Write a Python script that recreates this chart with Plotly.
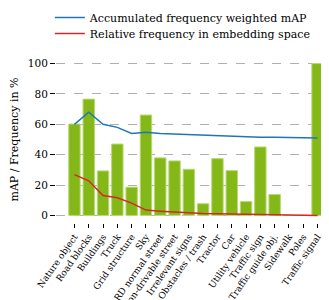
import plotly.graph_objects as go

categories = ["Nature object", "Road blocks", "Buildings", "Truck", "Grid structure", "Sky",
              "RD normal street", "Non-drivable street", "Irrelevant signs", "Obstacles / trash",
              "Tractor", "Car", "Utility vehicle", "Traffic sign", "Traffic guide obj.",
              "Sidewalk", "Poles", "Traffic signal"]
bar_map = [60.2, 76.6, 29.3, 47.0, 18.6, 66.1, 37.9, 35.9, 30.4, 7.7,
           37.4, 29.5, 9.2, 45.1, 13.8, 0.0, 0.0, 100.0]
acc_weighted_map = [60.0, 68.0, 60.0, 58.0, 54.0, 54.7, 54.0, 53.6, 53.2, 52.5,
                    52.3, 51.9, 51.6, 51.4, 51.4, 51.2, 51.2, 51.0]
rel_frequency = [26.9, 22.8, 13.1, 11.6, 8.1, 3.5, 2.8, 2.2, 1.8, 1.3,
                 1.1, 0.9, 0.7, 0.5, 0.3, 0.1, 0.05, 0.0]
y_ticks = [0, 20, 40, 60, 80, 100]

FONT = "DejaVu Serif, Liberation Serif, serif"
x = list(range(len(categories)))

fig = go.Figure()
fig.add_trace(go.Bar(x=x, y=bar_map, width=0.8, showlegend=False,
                     marker=dict(color="#84b818", line=dict(color="#b8da74", width=1))))
fig.add_trace(go.Scatter(x=x, y=acc_weighted_map, mode="lines",
                         name="Accumulated frequency weighted mAP", legend="legend",
                         line=dict(color="#1f77b4", width=1.5)))
fig.add_trace(go.Scatter(x=x, y=rel_frequency, mode="lines",
                         name="Relative frequency in embedding space", legend="legend2",
                         line=dict(color="#d62728", width=1.5)))

legend_style = dict(xanchor="left", yanchor="top", bgcolor="rgba(0,0,0,0)",
                    font=dict(family=FONT, size=11), itemwidth=30)

fig.update_layout(
    width=329, height=300,
    margin=dict(l=48, r=1, t=48, b=85, autoexpand=False),
    paper_bgcolor="white", plot_bgcolor="white",
    font=dict(family=FONT, size=11, color="black"),
    legend=dict(x=-0.022, y=1.318, **legend_style),
    legend2=dict(x=-0.022, y=1.222, **legend_style),
    xaxis=dict(range=[-1.29, 18.29], tickmode="array", tickvals=x, ticktext=categories,
               tickangle=-55, ticks="outside", ticklen=4, tickcolor="black",
               showgrid=False, zeroline=False, showline=False,
               tickfont=dict(family=FONT, size=9)),
    yaxis=dict(range=[-5, 105], tickmode="array", tickvals=y_ticks,
               ticks="outside", ticklen=5, tickcolor="black",
               showgrid=True, gridcolor="#b0b0b0", griddash="dash", gridwidth=1,
               zeroline=False, showline=False,
               title=dict(text="mAP / Frequency in %", font=dict(family=FONT, size=11), standoff=7),
               tickfont=dict(family=FONT, size=10.5)),
)

fig.write_html("out.html")
